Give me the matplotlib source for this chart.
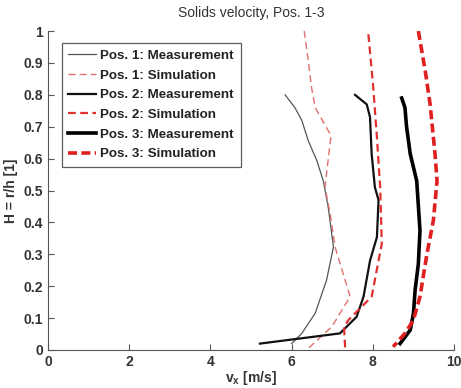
import numpy as np
import matplotlib
matplotlib.use("Agg")
import matplotlib.pyplot as plt

plt.rcParams["font.family"] = ["Liberation Sans", "DejaVu Sans"]

# Pos. 1 measurement (thin gray)
p1_meas_x = [5.84, 6.08, 6.25, 6.41, 6.62, 6.78, 6.90, 7.03, 6.86, 6.58, 6.25, 6.00]
p1_meas_y = [0.80, 0.76, 0.72, 0.656, 0.594, 0.53, 0.448, 0.323, 0.219, 0.115, 0.052, 0.02]

# Pos. 1 simulation (thin pink dashed)
p1_sim_x = [6.31, 6.41, 6.49, 6.58, 6.97, 6.82, 6.95, 7.07, 7.44, 6.99, 6.41]
p1_sim_y = [1.00, 0.906, 0.823, 0.76, 0.672, 0.51, 0.427, 0.323, 0.167, 0.073, 0.005]

# Pos. 2 measurement (black)
p2_meas_x = [7.56, 7.85, 7.93, 7.97, 8.05, 8.14, 8.10, 7.93, 7.77, 7.60, 7.19, 5.22]
p2_meas_y = [0.80, 0.77, 0.73, 0.615, 0.51, 0.47, 0.354, 0.28, 0.167, 0.104, 0.052, 0.02]

# Pos. 2 simulation (red dashed)
p2_sim_x = [7.89, 8.01, 8.10, 8.18, 8.22, 8.05, 7.97, 7.40, 7.29, 7.32]
p2_sim_y = [0.99, 0.823, 0.667, 0.51, 0.333, 0.22, 0.167, 0.094, 0.073, 0.0]

# Pos. 3 measurement (thick black)
p3_meas_x = [8.71, 8.79, 8.83, 8.92, 9.08, 9.16, 9.12, 9.04, 9.00, 8.92, 8.67]
p3_meas_y = [0.79, 0.76, 0.70, 0.615, 0.53, 0.375, 0.27, 0.1875, 0.115, 0.0625, 0.02]

# Pos. 3 simulation (thick red dashed)
p3_sim_x = [9.12, 9.29, 9.41, 9.53, 9.58, 9.49, 9.33, 9.16, 9.00, 8.79, 8.50]
p3_sim_y = [1.00, 0.875, 0.77, 0.615, 0.53, 0.406, 0.30, 0.167, 0.094, 0.052, 0.01]

fig = plt.figure(figsize=(4.61, 3.88), dpi=100)
ax = fig.add_axes([0.104, 0.098, 0.881, 0.822])

ax.plot(p1_meas_x, p1_meas_y, color="#555555", lw=0.9, label="Pos. 1: Measurement")
ax.plot(p1_sim_x, p1_sim_y, color="#e07070", lw=1.0, ls=(0, (5, 3)), label="Pos. 1: Simulation")
ax.plot(p2_meas_x, p2_meas_y, color="#111111", lw=1.6, label="Pos. 2: Measurement")
ax.plot(p2_sim_x, p2_sim_y, color="#e03030", lw=1.6, ls=(0, (3.5, 2)), label="Pos. 2: Simulation")
ax.plot(p3_meas_x, p3_meas_y, color="black", lw=2.6, label="Pos. 3: Measurement")
ax.plot(p3_sim_x, p3_sim_y, color="#e02020", lw=2.6, ls=(0, (2.5, 1.2)), label="Pos. 3: Simulation")

ax.set_xlim(0, 10)
ax.set_ylim(0, 1)
ax.set_xticks(np.arange(0, 11, 2))
ax.set_yticks(np.arange(0, 1.01, 0.1))
ax.set_yticklabels(["0", "0.1", "0.2", "0.3", "0.4", "0.5", "0.6", "0.7", "0.8", "0.9", "1"])
ax.tick_params(direction="in", length=4, labelsize=10, width=0.8, color="#555555")
for lab in ax.get_xticklabels() + ax.get_yticklabels():
    lab.set_fontweight("bold")
    lab.set_color("#333333")
ax.spines["top"].set_visible(False)
ax.spines["right"].set_visible(False)
ax.spines["left"].set_color("#555555")
ax.spines["bottom"].set_color("#555555")

ax.set_title("Solids velocity, Pos. 1-3", fontsize=10, color="#333333", pad=10)
ax.set_xlabel("v$_\\mathregular{x}$ [m/s]", fontsize=10, fontweight="bold", color="#333333", labelpad=0)
ax.set_ylabel("H = r/h [1]", fontsize=10, fontweight="bold", color="#333333", labelpad=4)

leg = ax.legend(loc="upper left", bbox_to_anchor=(0.034, 0.962), fontsize=9.6,
                frameon=True, fancybox=False, edgecolor="#333333", handlelength=2.1,
                handletextpad=0.3, borderpad=0.5, labelspacing=0.55, borderaxespad=0)
leg.get_frame().set_linewidth(0.9)
for t in leg.get_texts():
    t.set_fontweight("bold")
    t.set_color("#222222")

fig.savefig("out.png", dpi=100)
